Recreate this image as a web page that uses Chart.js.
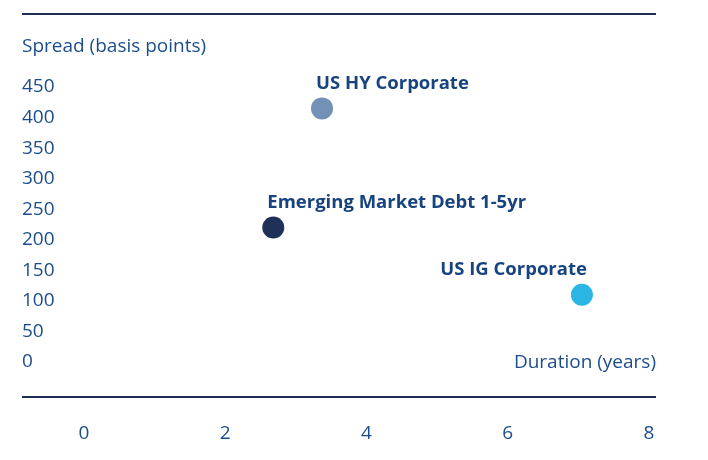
<!DOCTYPE html>
<html>
<head>
<meta charset="utf-8">
<script src="https://cdn.jsdelivr.net/npm/chart.js@4.4.1/dist/chart.umd.min.js"></script>
<style>
  html, body { margin: 0; padding: 0; background: #fff; }
  #wrap { width: 708px; height: 460px; }
</style>
</head>
<body>
<div id="wrap"><canvas id="chart"></canvas></div>
<script>
// values
const names = ['US HY Corporate', 'Emerging Market Debt 1-5yr', 'US IG Corporate'];
const durations = [3.37, 2.68, 7.05];
const spreads = [415, 220, 110];
const colors = ['#7391b6', '#1f3158', '#2ab5e5'];
const xTicks = [0, 2, 4, 6, 8];
const yTicks = [0, 50, 100, 150, 200, 250, 300, 350, 400, 450];

const navy = '#1e2f52';
const textBlue = '#1b4d8c';
const fontFamily = '"Open Sans", sans-serif';

// frame lines and axis titles
const framePlugin = {
    id: 'frame',
    afterDraw(chart) {
        const ctx = chart.ctx;
        ctx.save();
        ctx.strokeStyle = navy;
        ctx.lineWidth = 2;
        ctx.beginPath();
        ctx.moveTo(22, 14);
        ctx.lineTo(656, 14);
        ctx.moveTo(22, 397);
        ctx.lineTo(656, 397);
        ctx.stroke();

        ctx.fillStyle = textBlue;
        ctx.font = '19px ' + fontFamily;
        ctx.textBaseline = 'middle';
        ctx.textAlign = 'left';
        ctx.fillText('Spread (basis points)', 22, 47);
        ctx.textAlign = 'right';
        ctx.fillText('Duration (years)', 656, 363);
        ctx.restore();
    }
};

// name above each point
const pointLabels = {
    id: 'pointLabels',
    afterDatasetsDraw(chart) {
        const ctx = chart.ctx;
        ctx.save();
        ctx.fillStyle = '#17447f';
        ctx.font = 'bold 18.5px ' + fontFamily;
        ctx.textBaseline = 'middle';
        chart.data.datasets.forEach((ds, i) => {
            const pt = chart.getDatasetMeta(i).data[0];
            if (ds.labelAlign === 'right') {
                ctx.textAlign = 'right';
                ctx.fillText(ds.label, pt.x + 5, pt.y - 25);
            } else {
                ctx.textAlign = 'left';
                ctx.fillText(ds.label, pt.x - 6, pt.y - 25);
            }
        });
        ctx.restore();
    }
};

const datasets = names.map((name, i) => ({
    label: name,
    data: [{ x: durations[i], y: spreads[i] }],
    backgroundColor: colors[i],
    borderWidth: 0,
    pointRadius: 11,
    pointHoverRadius: 11,
    labelAlign: i === 2 ? 'right' : 'left'
}));

new Chart(document.getElementById('chart'), {
    type: 'scatter',
    data: { datasets },
    options: {
        responsive: true,
        maintainAspectRatio: false,
        animation: false,
        layout: { padding: { left: 22, right: 59, top: 87, bottom: 0 } },
        plugins: {
            legend: { display: false },
            tooltip: { enabled: false }
        },
        scales: {
            x: {
                type: 'linear',
                min: 0,
                max: 8,
                afterBuildTicks: (scale) => { scale.ticks = xTicks.map(v => ({ value: v })); },
                afterFit: (scale) => {
                    scale.height = 98;
                    scale.paddingLeft = 0;
                    scale.paddingRight = 0;
                },
                grid: { display: false, drawTicks: false },
                border: { display: false },
                ticks: { color: textBlue, font: { family: fontFamily, size: 19 }, padding: 60 }
            },
            y: {
                type: 'linear',
                min: 0,
                max: 450,
                afterBuildTicks: (scale) => { scale.ticks = yTicks.map(v => ({ value: v })); },
                afterFit: (scale) => { scale.width = 62; },
                grid: { display: false, drawTicks: false },
                border: { display: false },
                ticks: { color: textBlue, font: { family: fontFamily, size: 19 }, crossAlign: 'far', padding: 0 }
            }
        }
    },
    plugins: [framePlugin, pointLabels]
});
</script>
</body>
</html>
